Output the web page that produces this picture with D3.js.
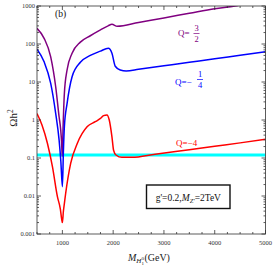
<!DOCTYPE html>
<html><head><meta charset="utf-8">
<script src="https://cdn.jsdelivr.net/npm/d3@7"></script>
<style>body{margin:0;background:#fff;}svg{display:block;}</style>
</head><body>
<svg id="c" width="274" height="270"></svg>
<script>
// ---- data ----
const xTicks = [1000, 2000, 3000, 4000, 5000];
const xTickLabels = ["1000", "2000", "3000", "4000", "5000"];
const yTicks = [0.001, 0.01, 0.1, 1, 10, 100, 1000];
const yTickLabels = ["0.001", "0.01", "0.1", "1", "10", "100", "1000"];

const purpleM = [500, 640, 770, 868, 935, 967, 985, 997, 1014, 1039, 1092, 1191, 1354, 1550, 1750, 1900, 1976, 2080, 2500, 3000, 3500, 4000, 4400, 5000];
const purpleV = [259, 141, 46, 7.5, 1.22, 0.55, 0.25, 0.11, 0.67, 5.0, 20.7, 57, 112, 165, 235, 300, 330, 292, 369, 486, 643, 849, 1000, 1480];

const blueM = [500, 640, 770, 868, 935, 970, 1000, 1020, 1039, 1092, 1191, 1354, 1550, 1750, 1904, 1976, 2041, 2139, 2257, 2500, 3000, 3500, 4000, 4500, 5000];
const blueV = [73, 34, 9.2, 1.5, 0.3, 0.08, 0.0176, 0.15, 0.67, 2.7, 13.8, 33, 50, 65, 77, 57, 26, 20.7, 19.5, 21.6, 26.7, 33, 40.7, 50.7, 62.7];

const redM = [500, 598, 705, 804, 902, 960, 985, 1000, 1020, 1040, 1065, 1163, 1295, 1491, 1648, 1750, 1811, 1878, 1923, 1976, 2008, 2055, 2173, 2369, 2827, 3500, 4000, 4500, 5000];
const redV = [1.48, 0.74, 0.244, 0.059, 0.0096, 0.0045, 0.0025, 0.002, 0.004, 0.0065, 0.0118, 0.072, 0.244, 0.67, 0.90, 1.1, 1.3, 1.36, 1.0, 0.36, 0.16, 0.12, 0.104, 0.104, 0.126, 0.166, 0.204, 0.25, 0.31];

const omegaObs = 0.12;

// ---- layout ----
const L = 37, R = 265.5, T = 6, B = 234;
const svg = d3.select("#c");
const x = d3.scaleLinear().domain([500, 5000]).range([L, R]);
const y = d3.scaleLog().domain([0.001, 1000]).range([B, T]);
const font = "Liberation Serif, Times New Roman, serif";

svg.append("defs").append("clipPath").attr("id", "clip")
  .append("rect").attr("x", L).attr("y", T).attr("width", R - L).attr("height", B - T);

const g = svg.append("g").attr("clip-path", "url(#clip)");

// observed relic line
g.append("line").attr("x1", L).attr("x2", R).attr("y1", y(omegaObs)).attr("y2", y(omegaObs))
  .attr("stroke", "#00ffff").attr("stroke-width", 3);

const line = d3.line().x(d => x(d[0])).y(d => y(d[1])).curve(d3.curveMonotoneX);
const series = [
  {m: purpleM, v: purpleV, c: "#800080"},
  {m: blueM, v: blueV, c: "#0000ff"},
  {m: redM, v: redV, c: "#ff0000"}
];
series.forEach(s => {
  g.append("path").datum(s.m.map((m, i) => [m, s.v[i]]))
    .attr("d", line).attr("fill", "none").attr("stroke", s.c).attr("stroke-width", 1.5);
});

// frame
const ax = svg.append("g").attr("stroke", "#333").attr("stroke-width", 0.8).attr("fill", "none");
ax.append("rect").attr("x", L).attr("y", T).attr("width", R - L).attr("height", B - T);

// x ticks
const xMinor = d3.range(500, 5001, 250).filter(v => !xTicks.includes(v));
xTicks.forEach(v => {
  ax.append("line").attr("x1", x(v)).attr("x2", x(v)).attr("y1", B).attr("y2", B - 4);
  ax.append("line").attr("x1", x(v)).attr("x2", x(v)).attr("y1", T).attr("y2", T + 4);
});
xMinor.forEach(v => {
  ax.append("line").attr("x1", x(v)).attr("x2", x(v)).attr("y1", B).attr("y2", B - 2);
  ax.append("line").attr("x1", x(v)).attr("x2", x(v)).attr("y1", T).attr("y2", T + 2);
});
// y ticks
const yMinor = [];
yTicks.slice(0, -1).forEach(d => { for (let k = 2; k <= 9; k++) yMinor.push(d * k); });
yTicks.forEach(v => {
  ax.append("line").attr("x1", L).attr("x2", L + 4).attr("y1", y(v)).attr("y2", y(v));
  ax.append("line").attr("x1", R).attr("x2", R - 4).attr("y1", y(v)).attr("y2", y(v));
});
yMinor.forEach(v => {
  ax.append("line").attr("x1", L).attr("x2", L + 2).attr("y1", y(v)).attr("y2", y(v));
  ax.append("line").attr("x1", R).attr("x2", R - 2).attr("y1", y(v)).attr("y2", y(v));
});

// tick labels
xTicks.forEach((v, i) => {
  svg.append("text").attr("x", x(v)).attr("y", 244.5).attr("text-anchor", "middle")
    .attr("font-family", font).attr("font-size", 6.5).attr("fill", "#333").text(xTickLabels[i]);
});
yTicks.forEach((v, i) => {
  svg.append("text").attr("x", 35).attr("y", y(v) + 2.2).attr("text-anchor", "end")
    .attr("font-family", font).attr("font-size", 6.5).attr("fill", "#333").text(yTickLabels[i]);
});

// axis titles
const yt = svg.append("text").attr("transform", "translate(17,118) rotate(-90)")
  .attr("text-anchor", "middle").attr("font-family", font).attr("font-size", 11).attr("fill", "#222");
yt.append("tspan").text("Ωh");
yt.append("tspan").attr("font-size", 7.5).attr("dy", -4.5).text("2");

const xt = svg.append("text").attr("x", 128).attr("y", 261)
  .attr("font-family", font).attr("font-size", 10).attr("fill", "#222");
xt.append("tspan").attr("font-style", "italic").text("M");
xt.append("tspan").attr("font-style", "italic").attr("font-size", 7).attr("dy", 2).text("H");
xt.append("tspan").attr("font-size", 5).attr("dy", 1.5).text("1");
xt.append("tspan").attr("font-size", 5).attr("dx", -2.5).attr("dy", -5).text("0");
xt.append("tspan").attr("dy", 1.5).attr("dx", 0.5).text("(GeV)");

// panel label
svg.append("text").attr("x", 55).attr("y", 16.5).attr("font-family", font).attr("font-size", 9.5)
  .attr("fill", "#111").text("(b)");

// legend box
svg.append("rect").attr("x", 146.5).attr("y", 185).attr("width", 83.5).attr("height", 23.5)
  .attr("fill", "#fff").attr("stroke", "#111").attr("stroke-width", 1.4);
const lt = svg.append("text").attr("x", 188.3).attr("y", 200.5).attr("text-anchor", "middle")
  .attr("font-family", font).attr("font-size", 9.5).attr("fill", "#111");
lt.append("tspan").text("g'=0.2,");
lt.append("tspan").attr("font-style", "italic").text("M");
lt.append("tspan").attr("font-style", "italic").attr("font-size", 6.5).attr("dy", 2).text("Z'");
lt.append("tspan").attr("dy", -2).text("=2TeV");

// Q labels
function qlab(xq, yq, pre, num, den, col) {
  svg.append("text").attr("x", xq).attr("y", yq + 3).attr("font-family", font).attr("font-size", 9)
    .attr("fill", col).text(pre);
}
function frac(xc, yb, num, den, col) {
  svg.append("text").attr("x", xc).attr("y", yb - 2.5).attr("text-anchor", "middle")
    .attr("font-family", font).attr("font-size", 8.5).attr("fill", col).text(num);
  svg.append("line").attr("x1", xc - 3).attr("x2", xc + 3).attr("y1", yb).attr("y2", yb)
    .attr("stroke", col).attr("stroke-width", 0.7);
  svg.append("text").attr("x", xc).attr("y", yb + 8).attr("text-anchor", "middle")
    .attr("font-family", font).attr("font-size", 8.5).attr("fill", col).text(den);
}
qlab(178, 33, "Q=", null, null, "#800080");
frac(196.5, 33.5, "3", "2", "#800080");
qlab(175, 82, "Q=−", null, null, "#0000ff");
frac(200, 79.5, "1", "4", "#0000ff");
svg.append("text").attr("x", 176).attr("y", 145.5).attr("font-family", font).attr("font-size", 9)
  .attr("fill", "#ff0000").text("Q=−4");
</script>
</body></html>
